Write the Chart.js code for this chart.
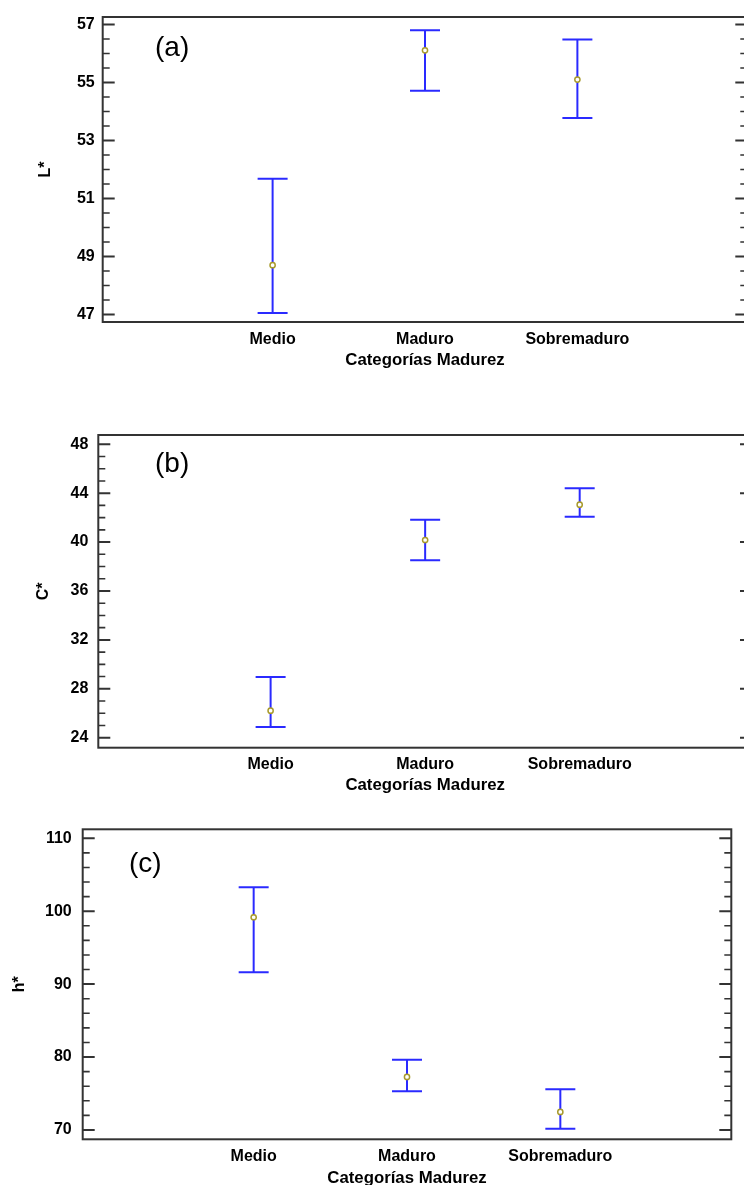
<!DOCTYPE html>
<html><head><meta charset="utf-8">
<script src="https://cdn.jsdelivr.net/npm/chart.js@4"></script>
<style>
html,body{margin:0;padding:0;background:#fff;overflow:hidden;width:744px;height:1185px;position:relative;}
canvas{position:absolute;left:0;}
</style></head><body>
<canvas id="ca"></canvas><canvas id="cb"></canvas><canvas id="cc"></canvas>
<script>
// ---- data ----
const categories = ['Medio', 'Maduro', 'Sobremaduro'];
const xTitle = 'Categorías Madurez';

const lMean = [48.70, 56.11, 55.10];
const lLow  = [47.05, 54.72, 53.78];
const lHigh = [51.68, 56.80, 56.48];
const lTicks = [47, 49, 51, 53, 55, 57];

const cMean = [26.21, 40.17, 43.06];
const cLow  = [24.88, 38.51, 42.08];
const cHigh = [28.97, 41.83, 44.40];
const cTicks = [24, 28, 32, 36, 40, 44, 48];

const hMean = [99.17, 77.27, 72.47];
const hLow  = [91.62, 75.30, 70.18];
const hHigh = [103.28, 79.64, 75.58];
const hTicks = [70, 80, 90, 100, 110];

// ---- layout / style ----
const FONT = '"Liberation Sans", Arial, sans-serif';
const CW = 770;
const BLUE = '#2a2aff';
const OLIVE = '#a89a2c';
const FRAME = '#333333';

const panels = [
  {id:'ca', tag:'(a)', yTitle:'L*', mean:lMean, low:lLow, high:lHigh, ticks:lTicks, minorStep:0.5,
   yMin:46.74, yMax:57.26, canvasTop:0, canvasH:380, box:{L:102.7,T:16.7,R:747.3,B:322},
   yLabelPad:8, yTitleX:45.5, xLabelY:340, xTitleY:360.7, tagX:155, tagY:56.3},
  {id:'cb', tag:'(b)', yTitle:'C*', mean:cMean, low:cLow, high:cHigh, ticks:cTicks, minorStep:1,
   yMin:23.18, yMax:48.76, canvasTop:400, canvasH:400, box:{L:98.3,T:435,R:752,B:747.7},
   yLabelPad:10, yTitleX:43.5, xLabelY:764.3, xTitleY:785, tagX:155, tagY:471.5},
  {id:'cc', tag:'(c)', yTitle:'h*', mean:hMean, low:hLow, high:hHigh, ticks:hTicks, minorStep:2,
   yMin:68.72, yMax:111.23, canvasTop:800, canvasH:400, box:{L:82.7,T:829.3,R:731.3,B:1139.3},
   yLabelPad:11, yTitleX:20, xLabelY:1156.7, xTitleY:1178, tagX:129, tagY:871.5}
];

const framePlugin = {
  id: 'frame',
  beforeDatasetsDraw(chart, args, o) {
    const {ctx, chartArea: a} = chart;
    const y = chart.scales.y;
    ctx.save();
    ctx.strokeStyle = FRAME;
    // major ticks
    ctx.lineWidth = 2;
    o.ticks.forEach(v => {
      const py = y.getPixelForValue(v);
      ctx.beginPath();
      ctx.moveTo(a.left, py); ctx.lineTo(a.left + 12, py);
      ctx.moveTo(a.right - 12, py); ctx.lineTo(a.right, py);
      ctx.stroke();
    });
    // minor ticks
    ctx.lineWidth = 1.6;
    const st = o.minorStep;
    for (let k = Math.ceil(y.min / st); k * st <= y.max; k++) {
      const v = k * st;
      if (o.ticks.some(m => Math.abs(m - v) < 1e-6)) continue;
      const py = y.getPixelForValue(v);
      ctx.beginPath();
      ctx.moveTo(a.left, py); ctx.lineTo(a.left + 7, py);
      ctx.moveTo(a.right - 7, py); ctx.lineTo(a.right, py);
      ctx.stroke();
    }
    // frame
    ctx.lineWidth = 2;
    ctx.strokeRect(a.left, a.top, a.right - a.left, a.bottom - a.top);
    // panel tag
    ctx.fillStyle = '#000';
    ctx.font = '28px ' + FONT;
    ctx.textBaseline = 'alphabetic';
    ctx.textAlign = 'left';
    ctx.fillText(o.tag, o.tagX, o.tagY);
    ctx.restore();
  }
};

panels.forEach(p => {
  const cv = document.getElementById(p.id);
  cv.width = CW; cv.height = p.canvasH;
  cv.style.width = CW + 'px'; cv.style.height = p.canvasH + 'px';
  cv.style.top = p.canvasTop + 'px';

  const meanPts = p.mean.map((m, i) => ({x: i, y: m}));
  const capPts = p.low.map((v, i) => ({x: i, y: v})).concat(p.high.map((v, i) => ({x: i, y: v})));
  const stemPts = [];
  p.low.forEach((v, i) => { stemPts.push({x: i, y: v}, {x: i, y: p.high[i]}, {x: i, y: null}); });

  new Chart(cv, {
    type: 'scatter',
    data: {
      datasets: [
        {label: 'media', data: meanPts, pointStyle: 'circle', pointRadius: 2.6,
         pointBorderWidth: 1.5, pointBorderColor: OLIVE, pointBackgroundColor: '#ffffff',
         borderColor: OLIVE, backgroundColor: '#ffffff'},
        {label: 'caps', data: capPts, pointStyle: 'line', pointRadius: 15,
         pointBorderWidth: 2, pointBorderColor: BLUE, borderColor: BLUE},
        {label: 'stems', data: stemPts, showLine: true, spanGaps: false, pointRadius: 0,
         borderWidth: 2, borderColor: BLUE}
      ]
    },
    options: {
      responsive: false,
      animation: false,
      events: [],
      devicePixelRatio: 1,
      layout: {padding: {top: p.box.T - p.canvasTop, left: 0, right: CW - p.box.R, bottom: 0}},
      plugins: {
        legend: {display: false},
        tooltip: {enabled: false},
        frame: {ticks: p.ticks, minorStep: p.minorStep, tag: p.tag,
                tagX: p.tagX, tagY: p.tagY - p.canvasTop}
      },
      scales: {
        x: {
          type: 'linear', min: -1.115, max: 3.115, offset: false, bounds: 'data',
          grid: {display: false, drawTicks: false}, border: {display: false},
          afterBuildTicks: s => { s.ticks = categories.map((_, i) => ({value: i})); },
          afterFit: s => { s.height = p.canvasH - (p.box.B - p.canvasTop); s.paddingLeft = 0; s.paddingRight = 0; },
          ticks: {autoSkip: false, maxRotation: 0, minRotation: 0,
                  padding: p.xLabelY - p.box.B - 9.6, color: '#000',
                  font: {family: FONT, size: 16, weight: 'bold'},
                  callback: v => categories[v]},
          title: {display: true, text: xTitle, color: '#000',
                  font: {family: FONT, size: 16.8, weight: 'bold'},
                  padding: {top: 0, bottom: p.canvasTop + p.canvasH - 16.8 * 1.2 / 2 - p.xTitleY}}
        },
        y: {
          type: 'linear', min: p.yMin, max: p.yMax, bounds: 'data',
          grid: {display: false, drawTicks: false}, border: {display: false},
          afterBuildTicks: s => { s.ticks = p.ticks.map(v => ({value: v})); },
          afterFit: s => { s.width = p.box.L; s.paddingTop = 0; s.paddingBottom = 0; },
          ticks: {autoSkip: false, padding: p.yLabelPad, color: '#000',
                  font: {family: FONT, size: 16, weight: 'bold'}},
          title: {display: true, text: p.yTitle, color: '#000',
                  font: {family: FONT, size: 16, weight: 'bold'},
                  padding: {top: p.yTitleX - 9.6, bottom: 0}}
        }
      }
    },
    plugins: [framePlugin]
  });
});
</script>
</body></html>
